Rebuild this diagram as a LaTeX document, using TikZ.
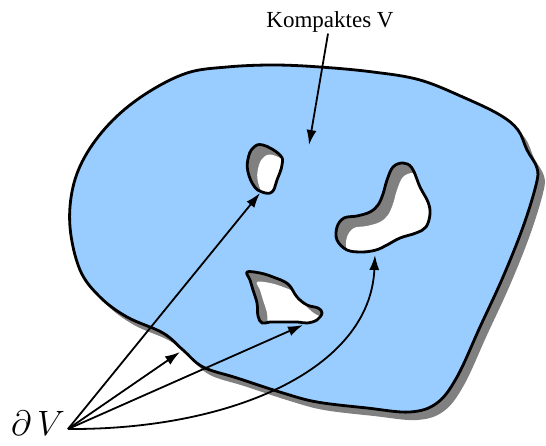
\documentclass[tikz,border=0pt]{standalone}
\usepackage{fontspec}
\setmainfont{Liberation Serif}
\usetikzlibrary{arrows.meta}
\definecolor{skyfill}{HTML}{99CCFF}
\definecolor{shadowgray}{HTML}{808080}
\tikzset{
  rim/.style={line width=2.8pt, line join=round},
  ptr/.style={->, line width=1.8pt},
  cap22/.style={font=\fontsize{23}{26}\selectfont, inner sep=1pt}
}
% outline of V and of its three holes
\newcommand\outline{plot[smooth cycle, tension=0.6] coordinates {(273,65) (320,67) (373,72) (420,80) (465,98) (500,115) (518,130) (527,150) (537,168) (536,185) (523,227) (503,277) (480,327) (457,377) (437,403) (410,412) (367,408) (317,402) (283,393) (237,378) (203,367) (183,350) (163,333) (127,317) (100,297) (80,270) (70,227) (73,187) (87,153) (113,120) (147,93) (187,73) (227,67)}}
\newcommand\holeA{plot[smooth cycle, tension=0.7] coordinates {(263,145) (280,155) (282,165) (277,180) (272,192) (262,192) (254,186) (248,172) (248,159) (253,148)}}
\newcommand\holeB{plot[smooth cycle, tension=0.6] coordinates {(403,163) (412,168) (420,187) (428,202) (430,214) (426,227) (416,233) (400,238) (387,245) (376,250) (362,252) (347,250) (337,240) (337,227) (344,218) (357,216) (370,212) (378,205) (383,194) (387,180) (393,167)}}
\newcommand\holeC{plot[smooth cycle, tension=0.6] coordinates {(247,272) (260,273) (273,277) (288,284) (297,297) (307,305) (318,308) (322,313) (317,320) (307,323) (297,322) (280,322) (270,322) (262,323) (258,316) (257,303) (253,290) (250,280)}}
\newcommand\hole[1]{\begin{scope}\clip #1;\fill[shadowgray] #1;\fill[white, shift={(10,10)}] #1;\end{scope}\draw[rim] #1;}

\begin{document}
\begin{tikzpicture}[x=1pt, y=-1pt, >={Latex[length=15pt, width=10pt]}]
\useasboundingbox (0,0) rectangle (546,446);
% body with shadow
\fill[shadowgray, shift={(7,8)}] \outline;
\filldraw[rim, fill=skyfill] \outline;
\hole{\holeA}
\hole{\holeB}
\hole{\holeC}
% labels
\node[cap22] (kv) at (330,22) {Kompaktes V};
\node[font=\huge, scale=1.7, inner sep=1pt] (dv) at (38,423) {$\partial\,V$};
\coordinate (t0) at (309,145);
\coordinate (t1) at (260,193);
\coordinate (t2) at (180,352);
\coordinate (t3) at (303,325);
\coordinate (t4) at (375,255);
\coordinate (o) at (68,429);
\draw[ptr] (kv) -- (t0);
\draw[ptr] (o) -- (t1);
\draw[ptr] (o) -- (t2);
\draw[ptr] (o) -- (t3);
\draw[ptr] (o) .. controls (230,430) and (370,370) .. (t4);
\end{tikzpicture}
\end{document}
